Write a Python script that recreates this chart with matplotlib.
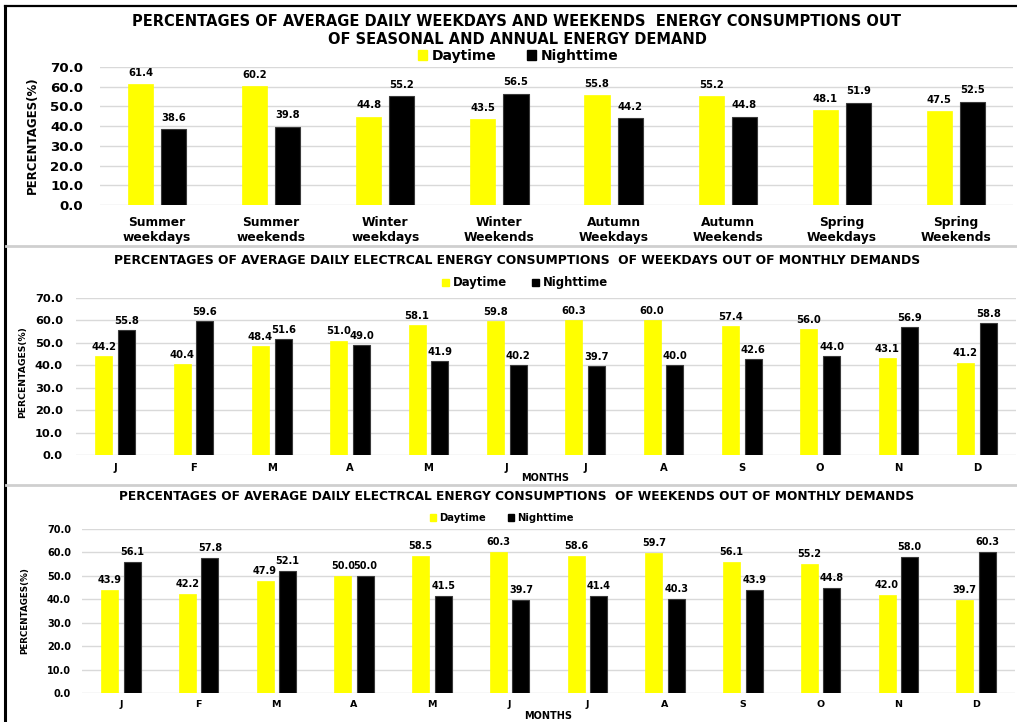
import matplotlib
matplotlib.use("Agg")
import matplotlib.pyplot as plt
from matplotlib.lines import Line2D
from matplotlib.patches import Patch
import numpy as np

plt.rcParams["font.family"] = ["DejaVu Sans"]
plt.rcParams["font.weight"] = "bold"

# ---- data -------------------------------------------------------------
seasons = ["Summer\nweekdays", "Summer\nweekends", "Winter\nweekdays", "Winter\nWeekends",
           "Autumn\nWeekdays", "Autumn\nWeekends", "Spring\nWeekdays", "Spring\nWeekends"]
season_day = [61.4, 60.2, 44.8, 43.5, 55.8, 55.2, 48.1, 47.5]
season_night = [38.6, 39.8, 55.2, 56.5, 44.2, 44.8, 51.9, 52.5]

months = ["J", "F", "M", "A", "M", "J", "J", "A", "S", "O", "N", "D"]
weekday_day = [44.2, 40.4, 48.4, 51.0, 58.1, 59.8, 60.3, 60.0, 57.4, 56.0, 43.1, 41.2]
weekday_night = [55.8, 59.6, 51.6, 49.0, 41.9, 40.2, 39.7, 40.0, 42.6, 44.0, 56.9, 58.8]
weekend_day = [43.9, 42.2, 47.9, 50.0, 58.5, 60.3, 58.6, 59.7, 56.1, 55.2, 42.0, 39.7]
weekend_night = [56.1, 57.8, 52.1, 50.0, 41.5, 39.7, 41.4, 40.3, 43.9, 44.8, 58.0, 60.3]

series_names = ["Daytime", "Nighttime"]
yticks = [0, 10, 20, 30, 40, 50, 60, 70]

# ---- layout helpers (pixel based) ---------------------------------------
W, H = 1017, 722
fig = plt.figure(figsize=(W / 100, H / 100), dpi=100)
fig.patch.set_facecolor("white")


def px_axes(left, top, right, bottom):
    return fig.add_axes([left / W, 1 - bottom / H, (right - left) / W, (bottom - top) / H])


def fx(x):
    return x / W


def fy(y):
    return 1 - y / H


YELLOW = "#FFFF00"
BLACK = "#000000"
GRID = "#d9d9d9"


def draw_panel(ax, cats, day, night, tick_fs, val_fs, cat_fs, pad_lbl, pad_y, val_off):
    x = np.arange(len(cats))
    w, off = 0.22, 0.145
    b1 = ax.bar(x - off, day, w, color=YELLOW, edgecolor=YELLOW, linewidth=0.5, zorder=3)
    b2 = ax.bar(x + off, night, w, color=BLACK, edgecolor="#3a3a3a", linewidth=0.8, zorder=3)
    for bars, vals in ((b1, day), (b2, night)):
        for rect, v in zip(bars, vals):
            ax.annotate(f"{v:.1f}", (rect.get_x() + rect.get_width() / 2, v),
                        xytext=(0, val_off), textcoords="offset points",
                        ha="center", va="bottom", fontsize=val_fs, fontweight="bold")
    ax.set_xlim(-0.5, len(cats) - 0.5)
    ax.set_ylim(0, 70)
    ax.set_yticks(yticks)
    ax.set_yticklabels([f"{t:.1f}" for t in yticks], fontsize=tick_fs, fontweight="bold")
    ax.set_xticks(x)
    ax.set_xticklabels(cats, fontsize=cat_fs, fontweight="bold", linespacing=1.2)
    ax.tick_params(axis="both", length=0)
    ax.tick_params(axis="x", pad=pad_lbl)
    ax.tick_params(axis="y", pad=pad_y)
    ax.grid(axis="y", color=GRID, linewidth=1.0, zorder=0)
    ax.set_axisbelow(True)
    for s in ax.spines.values():
        s.set_visible(False)
    ax.set_facecolor("none")
    return b1, b2


def add_legend(ax, cx, cy, fs, square):
    handles = [Patch(facecolor=YELLOW, edgecolor=YELLOW),
               Patch(facecolor=BLACK, edgecolor=BLACK)]
    ax.legend(handles, series_names, ncol=2, loc="center",
              bbox_to_anchor=(fx(cx), fy(cy)), bbox_transform=fig.transFigure,
              frameon=False, prop={"weight": "bold", "size": fs},
              handlelength=square, handleheight=square, handletextpad=0.3,
              columnspacing=2.2, borderpad=0)


# ---- panel 1: seasonal -------------------------------------------------------
ax1 = px_axes(100, 67, 1013, 205)
draw_panel(ax1, seasons, season_day, season_night, 9.6, 7.2, 8.8, 8, 12, 4.5)
fig.text(fx(517), fy(22), "PERCENTAGES OF AVERAGE DAILY WEEKDAYS AND WEEKENDS  ENERGY CONSUMPTIONS OUT",
         ha="center", va="center", fontsize=10.5, fontweight="bold")
fig.text(fx(517), fy(40), "OF SEASONAL AND ANNUAL ENERGY DEMAND",
         ha="center", va="center", fontsize=10.5, fontweight="bold")
add_legend(ax1, 518, 56, 10, 0.7)
fig.text(fx(32), fy(135), "PERCENTAGES(%)", rotation=90, ha="center", va="center",
         fontsize=8.5, fontweight="bold")

# ---- panel 2: weekdays by month ------------------------------------------
ax2 = px_axes(76, 298, 1016, 455)
draw_panel(ax2, months, weekday_day, weekday_night, 8.2, 7.2, 7.2, 6, 9.4, 3)
fig.text(fx(517), fy(261),
         "PERCENTAGES OF AVERAGE DAILY ELECTRCAL ENERGY CONSUMPTIONS  OF WEEKDAYS OUT OF MONTHLY DEMANDS",
         ha="center", va="center", fontsize=8.9, fontweight="bold")
add_legend(ax2, 525, 283, 8.4, 0.6)
fig.text(fx(23), fy(372), "PERCENTAGES(%)", rotation=90, ha="center", va="center",
         fontsize=6.7, fontweight="bold")
fig.text(fx(545), fy(478), "MONTHS", ha="center", va="center", fontsize=7, fontweight="bold")

# ---- panel 3: weekends by month ------------------------------------------
ax3 = px_axes(82, 529, 1015, 693)
draw_panel(ax3, months, weekend_day, weekend_night, 7.0, 7.0, 6.8, 5, 8, 3.6)
fig.text(fx(517), fy(497),
         "PERCENTAGES OF AVERAGE DAILY ELECTRCAL ENERGY CONSUMPTIONS  OF WEEKENDS OUT OF MONTHLY DEMANDS",
         ha="center", va="center", fontsize=8.7, fontweight="bold")
add_legend(ax3, 502, 518, 7.2, 0.6)
fig.text(fx(25), fy(611), "PERCENTAGES(%)", rotation=90, ha="center", va="center",
         fontsize=6.3, fontweight="bold")
fig.text(fx(548), fy(716), "MONTHS", ha="center", va="center", fontsize=7, fontweight="bold")

# ---- frame lines ----------------------------------------------------------
fig.add_artist(Line2D([fx(5), fx(5)], [fy(6), fy(722)], color="black", linewidth=2.2))
fig.add_artist(Line2D([fx(5), fx(1017)], [fy(6), fy(6)], color="black", linewidth=1.6))
for yy in (246, 485):
    fig.add_artist(Line2D([fx(6), fx(1017)], [fy(yy), fy(yy)], color="#cfcfcf", linewidth=2.0))

fig.savefig("out.png", dpi=100, facecolor="white")
